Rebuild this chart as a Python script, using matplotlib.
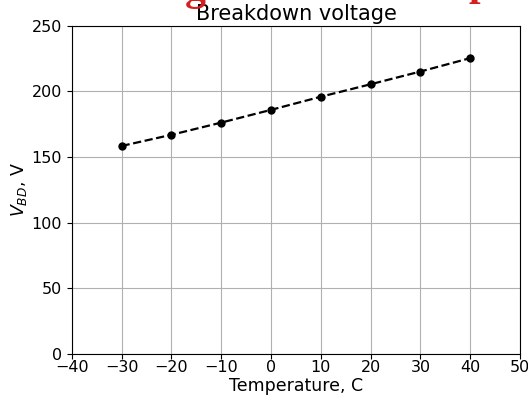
import matplotlib
matplotlib.use('Agg')
import matplotlib.pyplot as plt

# Breakdown voltage measured at each temperature
temperature = [-30, -20, -10, 0, 10, 20, 30, 40]
v_bd = [158.5, 167, 176.3, 186, 196, 205.5, 215.2, 225.4]

x_ticks = [-40, -30, -20, -10, 0, 10, 20, 30, 40, 50]
y_ticks = [0, 50, 100, 150, 200, 250]


def plot_breakdown(temps: list, volts: list) -> None:
    '''Plot of breakdown voltage vs temperature'''

    fig = plt.figure(figsize=(5.28, 3.97), dpi=100)
    ax = fig.add_axes([0.136, 0.108, 0.849, 0.827])

    # red header text sitting above the figure, only its descenders show
    fig.text(0.350, 1.0, 'g', color='#d42020', fontsize=30, family='Liberation Serif',
             fontweight='bold', va='baseline', ha='left')
    fig.text(0.888, 1.012, 'p', color='#d42020', fontsize=30, family='Liberation Serif',
             fontweight='bold', va='baseline', ha='left')

    ax.plot(temps, volts, 'k--o', lw=1.6, markersize=5)
    ax.set_xlim(-40, 50)
    ax.set_ylim(0, 250)
    ax.set_xticks(x_ticks)
    ax.set_yticks(y_ticks)
    ax.tick_params(labelsize=11.5)
    ax.tick_params(axis='x', pad=1)
    ax.grid(True, color='#b0b0b0', lw=0.8)
    ax.set_title('Breakdown voltage', fontsize=15, pad=4)
    ax.set_xlabel('Temperature, C', fontsize=12.5, labelpad=1)
    ax.set_ylabel('$V_{BD}$, V', fontsize=12.5, labelpad=2)
    fig.savefig('out.png', dpi=100)


if __name__ == '__main__':
    plot_breakdown(temperature, v_bd)
